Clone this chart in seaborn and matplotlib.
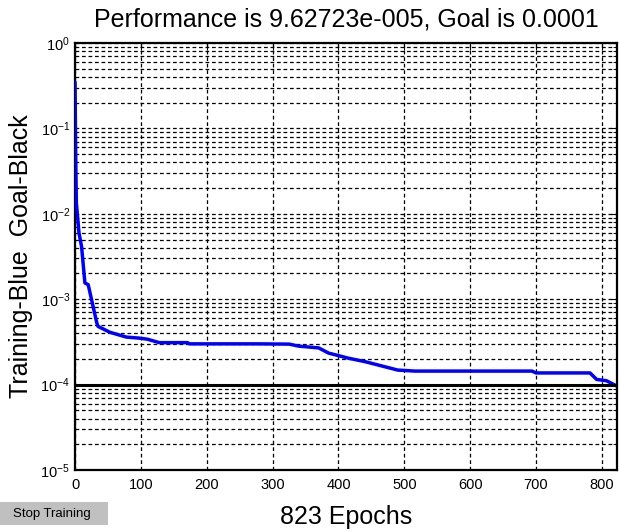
import numpy as np
import pandas as pd
import matplotlib
matplotlib.use("Agg")
import matplotlib.pyplot as plt
import seaborn as sns
from matplotlib.patches import Rectangle
from matplotlib.ticker import LogLocator, FixedLocator

# Training performance (mean squared error) per epoch, piecewise
epochs = [0, 1, 2, 6, 10, 15, 20, 33, 35, 53, 78, 98, 110, 128, 171, 174,
          279, 325, 340, 370, 385, 415, 440, 465, 490, 516, 694, 700, 782,
          792, 807, 820, 823]
perf = [0.35, 0.05, 0.0135, 0.006, 0.0041, 0.00155, 0.00148, 0.00053,
        0.00048, 0.00041, 0.00036, 0.00035, 0.00034, 0.00031, 0.00031,
        0.000300, 0.000300, 0.000298, 0.000282, 0.000269, 0.000234,
        0.000204, 0.000186, 0.000166, 0.000148, 0.000144, 0.000144,
        0.000137, 0.000137, 0.000115, 0.000111, 9.85e-05, 9.62723e-05]
goal = 1e-4
n_epochs = 823
xticks = [0, 100, 200, 300, 400, 500, 600, 700, 800]
yticks = [1e-5, 1e-4, 1e-3, 1e-2, 1e-1, 1e0]
ytick_labels = [r"$10^{-5}$", r"$10^{-4}$", r"$10^{-3}$", r"$10^{-2}$",
                r"$10^{-1}$", r"$10^{0}$"]

df = pd.DataFrame({"epoch": epochs, "perf": perf})

sns.set_style("white")
plt.rcParams["font.family"] = ["Liberation Sans", "DejaVu Sans"]
plt.rcParams["mathtext.fontset"] = "custom"
plt.rcParams["mathtext.rm"] = "Liberation Sans"
plt.rcParams["mathtext.it"] = "Liberation Sans"
for key in ("text.color", "axes.labelcolor", "xtick.color", "ytick.color"):
    plt.rcParams[key] = "black"

fig = plt.figure(figsize=(6.19, 5.32), dpi=100)
ax = fig.add_axes([0.1212, 0.1165, 0.8756, 0.8027])

ax.set_yscale("log")
ax.set_xlim(0, n_epochs)
ax.set_ylim(1e-5, 1e0)

grid_kw = dict(color="black", linestyle=(0, (3.0, 2.2)), linewidth=0.9)
ax.yaxis.set_major_locator(FixedLocator(yticks))
ax.yaxis.set_minor_locator(LogLocator(base=10, subs=np.arange(2, 10)))
ax.xaxis.set_major_locator(FixedLocator(xticks))
ax.grid(True, which="major", axis="both", **grid_kw)
ax.grid(True, which="minor", axis="y", **grid_kw)
ax.set_axisbelow(True)

sns.lineplot(data=df, x="epoch", y="perf", ax=ax, color=(0, 0, 1),
             linewidth=2.5, zorder=3)
ax.axhline(goal, color="black", linewidth=2.2, zorder=4)

ax.set_yticklabels(ytick_labels)
ax.set_xticklabels([str(t) for t in xticks])
ax.tick_params(axis="both", which="both", direction="in", labelsize=10.5,
               top=True, right=True, colors="black")
ax.tick_params(axis="both", which="major", length=5)
ax.tick_params(axis="y", which="minor", length=3)
ax.tick_params(axis="x", pad=6)
for sp in ax.spines.values():
    sp.set_linewidth(1.6)
    sp.set_color("black")

ax.set_title("Performance is 9.62723e-005, Goal is 0.0001", fontsize=18,
             pad=12)
ax.set_ylabel("Training-Blue  Goal-Black", fontsize=18, labelpad=5)
ax.set_xlabel("823 Epochs", fontsize=18, labelpad=9)

# "Stop Training" button in the lower left corner
fig.patches.append(Rectangle((0, 7 / 532), 108 / 619, 23 / 532,
                             transform=fig.transFigure,
                             facecolor="#c0c0c0", edgecolor="none"))
fig.text(52 / 619, 18.5 / 532, "Stop Training", ha="center", va="center",
         fontsize=9.5, color="black")

fig.savefig("out.png", dpi=100)
